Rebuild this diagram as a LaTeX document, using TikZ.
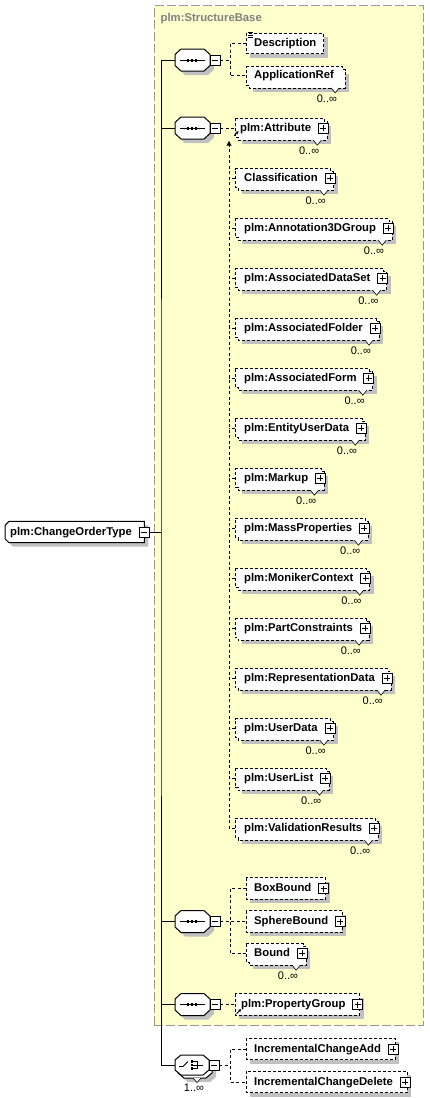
\documentclass[tikz,border=0pt]{standalone}
\usepackage{fontspec}
\setmainfont{Liberation Sans}
\usetikzlibrary{calc,arrows.meta}
\pgfdeclarelayer{bg}
\pgfsetlayers{bg,main}
\definecolor{baseyellow}{RGB}{255,255,204}
\definecolor{baseedge}{RGB}{150,150,150}
\definecolor{shadowc}{RGB}{192,192,192}
\definecolor{titlegray}{RGB}{128,128,128}
\tikzset{
  etext/.style={anchor=west, inner xsep=0pt, inner ysep=0pt, text height=8.5pt, text depth=2.5pt,
    font=\bfseries\fontsize{11.3}{13}\selectfont},
  mult/.style={font=\fontsize{11}{12}\selectfont, inner sep=0pt, anchor=base east},
  edash/.style={dash pattern=on 3pt off 2pt, line width=0.8pt},
  conn/.style={dash pattern=on 3pt off 2.5pt, line width=0.8pt},
  solidline/.style={line width=1pt},
  sqbox/.style={draw, fill=white, line width=0.7pt, minimum size=10pt, inner sep=0pt},
  minusbox/.style={sqbox, path picture={\draw[line width=.7pt] ($(path picture bounding box.center)+(-3,0)$) -- ++(6,0);}},
  plusbox/.style={sqbox, path picture={\draw[line width=.7pt] ($(path picture bounding box.center)+(-3,0)$) -- ++(6,0) ($(path picture bounding box.center)+(0,-3)$) -- ++(0,6);}},
  basebox/.style={draw=baseedge, fill=baseyellow, dash pattern=on 9pt off 3pt, line width=1pt, inner sep=0pt},
  refarrow/.style={line width=.9pt, -{Stealth[length=3pt,width=3.5pt]}},
}
% octagon: x0, x1, yc, half height
\newcommand\octpath[4]{(#1+6,#3-#4) -- (#2-6,#3-#4) -- (#2,#3-#4/2) -- (#2,#3+#4/2) -- (#2-6,#3+#4) -- (#1+6,#3+#4) -- (#1,#3+#4/2) -- (#1,#3-#4/2) -- cycle}
% multi element with plus: name, x0, yc, left pad, text
\newcommand\elemM[5]{%
  \node[etext, minimum height=18pt] (#1) at (#2,#3) {\hspace*{#4pt}#5\hspace*{13pt}};
  \begin{pgfonlayer}{bg}
    \fill[shadowc] ($(#1.north west)+(7,7)$) rectangle ($(#1.south east)+(7,7)$);
    \draw[edash, fill=white] (#1.north west) -- (#1.north east) -- ++(0,3) -- ++(3,0) -- ($(#1.south east)+(3,3)$) -- ($(#1.south west)+(3,3)$) -- ++(0,-3) -- (#1.south west) -- cycle;
  \end{pgfonlayer}
  \draw[line width=.6pt, fill=white] ($(#1.south east)+(-11,3)$) -- ++(4,5) -- ++(4,-5);
  \node[mult] (#1-n) at ($(#1.south east)+(-5,17.5)$) {0..∞};
  \node[plusbox] (#1-p) at ($(#1.east)+(-1,0)$) {};
}
% multi element without plus
\newcommand\elemMn[5]{%
  \node[etext, minimum height=18pt] (#1) at (#2,#3) {\hspace*{#4pt}#5\hspace*{8pt}};
  \begin{pgfonlayer}{bg}
    \fill[shadowc] ($(#1.north west)+(7,7)$) rectangle ($(#1.south east)+(7,7)$);
    \draw[edash, fill=white] (#1.north west) -- (#1.north east) -- ++(0,3) -- ++(3,0) -- ($(#1.south east)+(3,3)$) -- ($(#1.south west)+(3,3)$) -- ++(0,-3) -- (#1.south west) -- cycle;
  \end{pgfonlayer}
  \draw[line width=.6pt, fill=white] ($(#1.south east)+(-11,3)$) -- ++(4,5) -- ++(4,-5);
  \node[mult] (#1-n) at ($(#1.south east)+(-5,17.5)$) {0..∞};
}
% single element with plus
\newcommand\elemS[5]{%
  \node[etext, minimum height=21pt] (#1) at (#2,#3) {\hspace*{#4pt}#5\hspace*{14pt}};
  \begin{pgfonlayer}{bg}
    \fill[shadowc] ($(#1.north west)+(4,4)$) rectangle ($(#1.south east)+(4,4)$);
    \draw[edash, fill=white] (#1.north west) rectangle (#1.south east);
  \end{pgfonlayer}
  \node[plusbox] (#1-p) at ($(#1.east)+(-2,0)$) {};
}
% single element without plus
\newcommand\elemSn[5]{%
  \node[etext, minimum height=20pt] (#1) at (#2,#3) {\hspace*{#4pt}#5\hspace*{7pt}};
  \begin{pgfonlayer}{bg}
    \fill[shadowc] ($(#1.north west)+(4,4)$) rectangle ($(#1.south east)+(4,4)$);
    \draw[edash, fill=white] (#1.north west) rectangle (#1.south east);
  \end{pgfonlayer}
}
% sequence compositor
\newcommand\compseq[2]{%
  \node[inner sep=0pt, minimum width=35pt, minimum height=22pt] (#1) at (192.5,#2) {};
  \begin{pgfonlayer}{bg}
    \fill[shadowc] \octpath{179}{214}{#2+4}{11};
    \draw[solidline, fill=white] \octpath{175}{210}{#2}{11};
  \end{pgfonlayer}
  \draw[line width=1pt] (180,#2) -- (205,#2);
  \foreach \dx in {188,192,196} \fill (\dx-1.1,#2-1.5) rectangle (\dx+1.1,#2+1.5);
  \node[minusbox] (#1-m) at (215,#2) {};
}
% choice compositor with multiplicity
\newcommand\compchoice[2]{%
  \node[inner sep=0pt, minimum width=34pt, minimum height=20pt] (#1) at (192,#2) {};
  \begin{pgfonlayer}{bg}
    \fill[shadowc] \octpath{182}{216}{#2+7}{10};
    \draw[solidline, fill=white] \octpath{178}{212}{#2+3}{10};
    \draw[solidline, fill=white] \octpath{175}{209}{#2}{10};
  \end{pgfonlayer}
  \draw[line width=.8pt] (179,#2+1.5) -- (183,#2+1.5) -- (188,#2-3.5);
  \foreach \dy in {-3.5,0,3.5} {\fill (190.8,#2+\dy-1.1) rectangle (193,#2+\dy+1.1);
     \draw[line width=.7pt] (193,#2+\dy) -- (197.5,#2+\dy);}
  \draw[line width=.7pt] (197.5,#2-3.5) -- (197.5,#2+3.5) (197.5,#2) -- (203,#2);
  \draw[line width=.6pt, fill=white] (193,#2+13) -- (197,#2+17.5) -- (201,#2+13);
  \node[mult, anchor=base] (#1-n) at (194,#2+26) {1..∞};
  \node[minusbox] (#1-m) at (214,#2) {};
}
\begin{document}
\begin{tikzpicture}[x=1pt,y=-1pt]
\useasboundingbox (0,0) rectangle (429,1098);
\begin{pgfonlayer}{bg}
  \node[basebox, minimum width=269pt, minimum height=1019.3pt] (base) at (288.8,515.35) {};
\end{pgfonlayer}
\node[anchor=west, inner sep=0pt, text=titlegray, font=\bfseries\fontsize{11.3}{13}\selectfont] (title) at (160.5,19) {plm:StructureBase};

% root element
\node[etext, minimum height=21pt] (root) at (5,532) {\hspace*{5pt}plm:ChangeOrderType\hspace*{12.5pt}};
\begin{pgfonlayer}{bg}
  \fill[shadowc] ($(root.north west)+(8,4)$) -- ($(root.north east)+(4,4)$) -- ($(root.south east)+(4,4)$) -- ($(root.south west)+(8,4)$) -- ($(root.south west)+(4,0)$) -- ($(root.north west)+(4,8)$) -- cycle;
  \draw[solidline, fill=white] ($(root.north west)+(4,0)$) -- (root.north east) -- (root.south east) -- ($(root.south west)+(4,0)$) -- ($(root.south west)+(0,-4)$) -- ($(root.north west)+(0,4)$) -- cycle;
\end{pgfonlayer}
\node[minusbox] (rm) at (root.east) {};

% compositors
\compseq{s1}{60}
\compseq{s2}{128}
\compseq{s3}{921.5}
\compseq{s4}{1004.5}
\compchoice{ch}{1065}

% group 1
\elemSn{desc}{246}{43.5}{8}{Description}
\elemMn{appref}{246}{75.7}{8}{ApplicationRef}
\draw[line width=.7pt] ($(desc.north west)+(2,-0.5)$) -- ++(5,0) ($(desc.north west)+(2,2)$) -- ++(5,0) ($(desc.north west)+(2,4.5)$) -- ++(5,0);

% group 2
\elemM{attr}{235}{128}{5}{plm:Attribute}
\elemM{cls}{235}{178}{9}{Classification}
\elemM{ann}{235}{228}{9}{plm:Annotation3DGroup}
\elemM{ads}{235}{278}{9}{plm:AssociatedDataSet}
\elemM{afo}{235}{328}{9}{plm:AssociatedFolder}
\elemM{afm}{235}{378}{9}{plm:AssociatedForm}
\elemM{eud}{235}{428}{9}{plm:EntityUserData}
\elemM{mku}{235}{478}{9}{plm:Markup}
\elemM{mpr}{235}{528}{9}{plm:MassProperties}
\elemM{mco}{235}{578}{9}{plm:MonikerContext}
\elemM{pco}{235}{628}{9}{plm:PartConstraints}
\elemM{rep}{235}{678}{9}{plm:RepresentationData}
\elemM{usd}{235}{728}{9}{plm:UserData}
\elemM{usl}{235}{778}{9}{plm:UserList}
\elemM{vres}{235}{828}{9}{plm:ValidationResults}
\draw[refarrow] ($(attr.south west)+(-1,-1.5)$) -- ++(4.5,-4.5);

% group 3
\elemS{boxb}{246}{888.5}{8}{BoxBound}
\elemS{sph}{246}{921.5}{8}{SphereBound}
\elemM{bound}{246}{953}{8}{Bound}

% group 4
\elemS{pgrp}{235}{1004.5}{6}{plm:PropertyGroup}
\draw[refarrow] ($(pgrp.south west)+(1.5,-1.5)$) -- ++(4.5,-4.5);

% group 5
\elemS{ica}{246}{1049}{8}{IncrementalChangeAdd}
\elemS{icd}{246}{1082}{8}{IncrementalChangeDelete}

% trunk
\coordinate (t) at (161,532);
\draw[solidline] (rm.east) -- (t);
\draw[solidline] (s1.west) -| (t) |- (ch.west);
\draw[solidline] (s2.west) -- (s2.west -| t);
\draw[solidline] (s3.west) -- (s3.west -| t);
\draw[solidline] (s4.west) -- (s4.west -| t);

% branches
\coordinate (b1) at (230,60);
\draw[conn] (s1-m.east) -- (b1);
\draw[conn] (desc.west) -| (b1) |- (appref.west);

\coordinate (b2) at (229,140.5);
\draw[conn] (s2-m.east) -- (attr.west);
\draw[conn, -{Latex[length=5pt,width=5.5pt]}] (vres.west) -| (b2);
\foreach \n in {cls,ann,ads,afo,afm,eud,mku,mpr,mco,pco,rep,usd,usl}
  \draw[conn] (\n.west) -- (\n.west -| b2);

\coordinate (b3) at (230,921.5);
\draw[conn] (s3-m.east) -- (sph.west);
\draw[conn] (boxb.west) -| (b3) |- (bound.west);

\draw[conn] (s4-m.east) -- (pgrp.west);

\coordinate (b5) at (230,1065);
\draw[conn] (ch-m.east) -- (b5);
\draw[conn] (ica.west) -| (b5) |- (icd.west);
\end{tikzpicture}
\end{document}
